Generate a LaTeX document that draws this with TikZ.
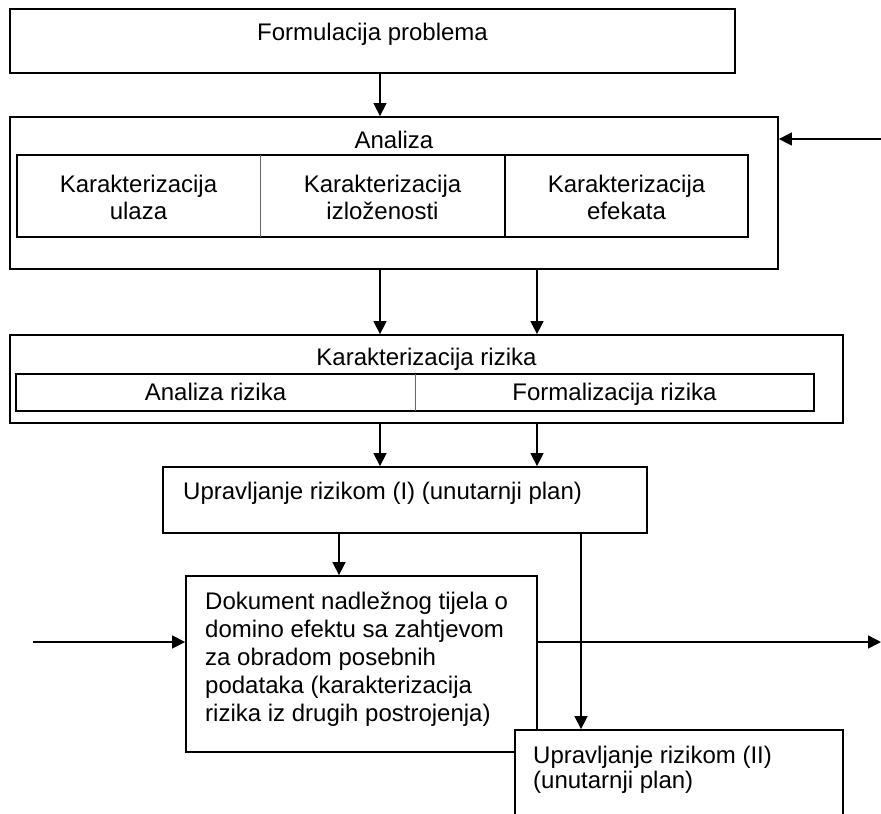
\documentclass[tikz,border=0pt]{standalone}
\usepackage{fontspec}
\setmainfont{Liberation Sans}
\usetikzlibrary{arrows.meta,fit}
\begin{document}
\begin{tikzpicture}[x=1pt,y=-1pt,
  box/.style={draw,line width=1.8pt,inner sep=0pt,fill=white},
  row/.style={draw,line width=2.6pt,inner sep=0pt},
  cell/.style={inner sep=0pt},
  txt/.style={font=\fontsize{24}{27}\selectfont,inner sep=0pt,anchor=base},
  ctxt/.style={txt,align=center,anchor=base},
  ltxt/.style={inner sep=0pt,align=left,anchor=base west},
  arr/.style={line width=1.5pt,-{Triangle[length=13pt,width=13pt]}},
  thin/.style={line width=1pt,draw=black!60}]
\useasboundingbox (0,0) rectangle (881,814);
\clip (0,0) rectangle (881,814);

% column positions for the vertical connectors
\coordinate (c1) at (380,0);
\coordinate (c2) at (537,0);
\coordinate (c3) at (339,0);
\coordinate (c4) at (581,0);

% problem statement
\node[box,fit={(10,9)(735,73)}] (A) {};
\node[txt] (tA) at (A.center |- 0,40) {Formulacija problema};

% analysis block (anchors of two-line texts sit on the last baseline)
\node[box,fit={(10,117)(778,269)}] (B) {};
\node[txt] (tB) at (B.center |- 0,148) {Analiza};
\node[row,fit={(17,155)(748,237)}] (rowB) {};
\node[cell,fit={(17,155)(260,237)}] (b1) {};
\node[cell,fit={(260,155)(505,237)}] (b2) {};
\node[cell,fit={(505,155)(748,237)}] (b3) {};
\draw[thin] (b1.north east) -- (b1.south east);
\draw[line width=2.2pt] (b2.north east) -- (b2.south east);
\node[ctxt] (tb1) at (b1.center |- 0,219) {Karakterizacija\\ulaza};
\node[ctxt] (tb2) at (b2.center |- 0,219) {Karakterizacija\\izloženosti};
\node[ctxt] (tb3) at (b3.center |- 0,219) {Karakterizacija\\efekata};

% risk characterisation block
\node[box,fit={(10,335)(843,423)}] (C) {};
\node[txt] (tC) at (C.center |- 0,365) {Karakterizacija rizika};
\node[row,fit={(16,374)(814,411)}] (rowC) {};
\node[cell,fit={(16,374)(415,411)}] (r1) {};
\node[cell,fit={(415,374)(814,411)}] (r2) {};
\draw[thin] (r1.north east) -- (r1.south east);
\node[txt] (tr1) at (r1.center |- 0,400) {Analiza rizika};
\node[txt] (tr2) at (r2.center |- 0,400) {Formalizacija rizika};

% risk management (I)
\node[box,fit={(163,467)(647,533)}] (D) {};
\node[ltxt,font=\fontsize{24}{28}\selectfont] (tD) at (183,499) {Upravljanje rizikom (I) (unutarnji plan)};

% authority document
\node[box,fit={(186,576)(537,752)}] (E) {};
\node[ltxt,font=\fontsize{24}{28}\selectfont] (tE) at (205,721) {Dokument nadležnog tijela o\\domino efektu sa zahtjevom\\za obradom posebnih\\podataka (karakterizacija\\rizika iz drugih postrojenja)};

% connectors
\draw[arr] (A.south -| c1) -- (B.north -| c1);
\coordinate (inR) at (881,139);
\draw[arr] (inR) -- (B.east |- inR);
\draw[arr] (B.south -| c1) -- (C.north -| c1);
\draw[arr] (B.south -| c2) -- (C.north -| c2);
\draw[arr] (C.south -| c1) -- (D.north -| c1);
\draw[arr] (C.south -| c2) -- (D.north -| c2);
\draw[arr] (D.south -| c3) -- (E.north -| c3);
\coordinate (inL) at (33,642);
\draw[arr] (inL) -- (E.west |- inL);
\coordinate (outR) at (881,642);
\draw[arr] (E.east |- outR) -- (outR);

% risk management (II), overlapping the document box
\node[box,fit={(515,730)(843,840)}] (F) {};
\node[ltxt,font=\fontsize{24}{25}\selectfont] (tF) at (533,788) {Upravljanje rizikom (II)\\(unutarnji plan)};
\draw[arr] (D.south -| c4) -- (F.north -| c4);
\end{tikzpicture}
\end{document}
